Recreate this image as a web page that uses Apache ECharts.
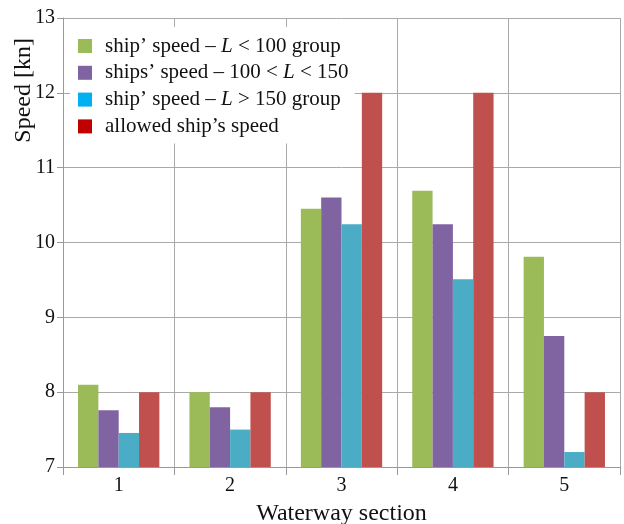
<!DOCTYPE html>
<html><head><meta charset="utf-8">
<script src="https://cdn.jsdelivr.net/npm/echarts@6/dist/echarts.min.js"></script>
<style>html,body{margin:0;padding:0;background:#fff}#c{width:624px;height:524px}</style>
</head><body><div id="c"></div>
<script>
const categories = ['1','2','3','4','5'];
const seriesNames = ['ship\u2019 speed \u2013 L < 100 group','ships\u2019 speed \u2013 100 < L < 150','ship\u2019 speed \u2013 L > 150 group','allowed ship\u2019s speed'];
const small = [8.1, 8.0, 10.45, 10.69, 9.81];
const medium = [7.76, 7.8, 10.6, 10.245, 8.75];
const large = [7.455, 7.5, 10.245, 9.51, 7.2];
const allowed = [8, 8, 12, 12, 8];
const barColors = ['#9BBB59','#8064A2','#4BACC6','#C0504D'];
const legendColors = ['#9BBB59','#8064A2','#00B0F0','#C00000'];
const font = "'Liberation Serif', 'Times New Roman', serif";
const chart = echarts.init(document.getElementById('c'));
const data = [small, medium, large, allowed];
chart.setOption({
  animation:false,
  textStyle:{fontFamily:font},
  grid:{left:63,right:4,top:18,bottom:57,containLabel:false,outerBoundsMode:'none'},
  legend:{
    left:70,top:27,orient:'vertical',itemWidth:14,itemHeight:14,itemGap:4.8,
    backgroundColor:'#fff',padding:[8,6,6,8],
    textStyle:{fontFamily:font,fontSize:21,lineHeight:22,color:'#111',padding:[0,0,0,8],
      rich:{i:{fontFamily:font,fontSize:21,fontStyle:'italic',color:'#111',lineHeight:22}}},
    formatter: n => n.replace(/ L /g,' {i|L} '),
    data: seriesNames.map((n,i)=>({name:n,icon:'rect',itemStyle:{color:legendColors[i]}})),
    selectedMode:false
  },
  graphic:[{
    type:'text',left:12,top:38,rotation:Math.PI/2,
    style:{text:'Speed [kn]',fontFamily:font,fontSize:24,fill:'#111'}
  }],
  xAxis:{
    type:'category',data:categories,
    name:'Waterway section',nameLocation:'middle',nameGap:35,
    nameTextStyle:{fontFamily:font,fontSize:24,color:'#111'},
    axisLine:{lineStyle:{color:'#999'}},
    axisTick:{show:true,alignWithLabel:false,length:8,lineStyle:{color:'#999'}},
    axisLabel:{fontFamily:font,fontSize:20,color:'#111',margin:9},
    splitLine:{show:true,lineStyle:{color:'#aaa'}}
  },
  yAxis:{
    type:'value',min:7,max:13,interval:1,
    axisLine:{show:true,lineStyle:{color:'#999'}},
    axisTick:{show:true,length:6,lineStyle:{color:'#999'}},
    axisLabel:{fontFamily:font,fontSize:20,color:'#111',margin:8},
    splitLine:{show:true,lineStyle:{color:'#aaa'}}
  },
  series: data.map((d,i)=>({
    name:seriesNames[i],type:'bar',data:d,
    barGap:'0%',barCategoryGap:'27%',
    itemStyle:{color:barColors[i]}
  }))
});
</script></body></html>
